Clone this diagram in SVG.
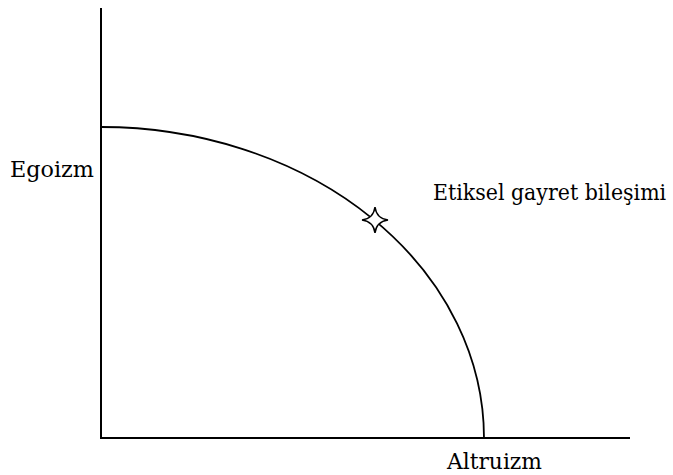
<svg xmlns="http://www.w3.org/2000/svg" width="673" height="475" viewBox="0 0 673 475">
<style>
.ax{stroke:#000;stroke-width:2;fill:none}
.cv{stroke:#000;stroke-width:1.8;fill:none}
text{font-family:'DejaVu Serif','Liberation Serif',serif;font-size:23px;fill:#000}
</style>
<rect width="673" height="475" fill="#fff"/>
<g id="connectors">
<line class="ax" x1="101" y1="8" x2="101" y2="439"/>
<line class="ax" x1="100" y1="438" x2="630" y2="438"/>
<path id="curve" class="cv" d="M101,127 A383,311 0 0 1 484,438"/>
</g>
<g id="star">
<path d="M375,207 Q376.5,218.5 388,220 Q376.5,221.5 375,233 Q373.5,221.5 362,220 Q373.5,218.5 375,207 Z" fill="#fff" stroke="#000" stroke-width="1.5"/>
</g>
<g id="egoizm"><text x="10" y="177" textLength="84" lengthAdjust="spacingAndGlyphs">Egoizm</text></g>
<g id="etiksel"><text transform="translate(433,200) scale(0.89,1)" x="0" y="0" textLength="262" lengthAdjust="spacingAndGlyphs">Etiksel gayret bileşimi</text></g>
<g id="altruizm"><text x="447" y="469" textLength="95" lengthAdjust="spacingAndGlyphs">Altruizm</text></g>
</svg>
